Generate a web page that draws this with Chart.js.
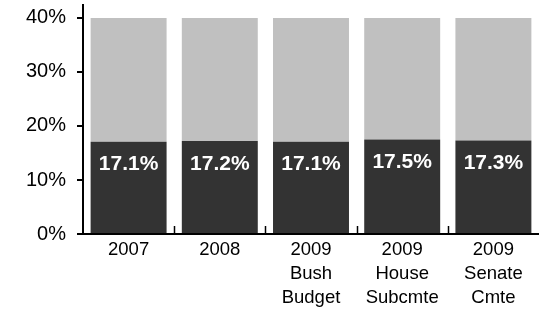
<!DOCTYPE html>
<html>
<head>
<meta charset="utf-8">
<script src="https://cdn.jsdelivr.net/npm/chart.js@4.4.1/dist/chart.umd.min.js"></script>
<style>
html,body{margin:0;padding:0;background:#fff;}
#wrap{width:539px;height:309px;position:relative;}
</style>
</head>
<body>
<div id="wrap"><canvas id="c" width="539" height="309"></canvas></div>
<script>
const categories = [['2007'], ['2008'], ['2009','Bush','Budget'], ['2009','House','Subcmte'], ['2009','Senate','Cmte']];
const revenueShare = [17.1, 17.2, 17.1, 17.5, 17.3];
const scaleTop = 40;
const remainder = revenueShare.map(v => +(scaleTop - v).toFixed(1));
const yTicks = [0, 10, 20, 30, 40];

const FONT = "'Liberation Sans', Arial, sans-serif";

const barLabels = {
  id: 'barLabels',
  afterDatasetsDraw(chart) {
    const ctx = chart.ctx;
    const meta = chart.getDatasetMeta(0);
    ctx.save();
    ctx.fillStyle = '#ffffff';
    ctx.font = 'bold 21px ' + FONT;
    ctx.textAlign = 'center';
    ctx.textBaseline = 'middle';
    meta.data.forEach((el, i) => {
      ctx.fillText(revenueShare[i].toFixed(1) + '%', el.x, el.y + 23);
    });
    ctx.restore();
  }
};

const xBoundaryTicks = {
  id: 'xBoundaryTicks',
  afterDraw(chart) {
    const ctx = chart.ctx;
    const xs = chart.scales.x;
    const bottom = chart.chartArea.bottom;
    ctx.save();
    ctx.strokeStyle = '#000';
    ctx.lineWidth = 1.5;
    for (let i = 0; i < categories.length - 1; i++) {
      const x = Math.round((xs.getPixelForValue(i) + xs.getPixelForValue(i + 1)) / 2) + 0.5;
      ctx.beginPath();
      ctx.moveTo(x, bottom);
      ctx.lineTo(x, bottom - 8);
      ctx.stroke();
    }
    ctx.restore();
  }
};

new Chart(document.getElementById('c'), {
  type: 'bar',
  data: {
    labels: categories,
    datasets: [
      { data: revenueShare, backgroundColor: '#333333', stack: 's' },
      { data: remainder, backgroundColor: '#c0c0c0', stack: 's' }
    ]
  },
  options: {
    responsive: false,
    animation: false,
    layout: { padding: { top: 5, right: 0, bottom: 0, left: 0 } },
    plugins: { legend: { display: false }, tooltip: { enabled: false } },
    datasets: { bar: { categoryPercentage: 1, barPercentage: 0.833 } },
    scales: {
      x: {
        stacked: true,
        grid: { display: false },
        border: { display: true, color: '#000', width: 2 },
        ticks: { color: '#000', font: { family: FONT, size: 18.5, lineHeight: 1.3 }, padding: -4, maxRotation: 0, autoSkip: false },
        afterFit(s) { s.height = 75; s.paddingLeft = 0; s.paddingRight = 0; }
      },
      y: {
        stacked: true,
        min: 0,
        max: 42.4,
        afterBuildTicks(s) { s.ticks = yTicks.map(v => ({ value: v })); },
        grid: { drawOnChartArea: false, drawTicks: true, tickLength: 6, color: '#000', lineWidth: 2 },
        border: { display: true, color: '#000', width: 2 },
        ticks: { color: '#000', font: { family: FONT, size: 20 }, padding: 11, callback: v => v + '%' },
        afterFit(s) { s.width = 83; s.paddingTop = 0; s.paddingBottom = 0; }
      }
    }
  },
  plugins: [barLabels, xBoundaryTicks]
});
</script>
</body>
</html>
